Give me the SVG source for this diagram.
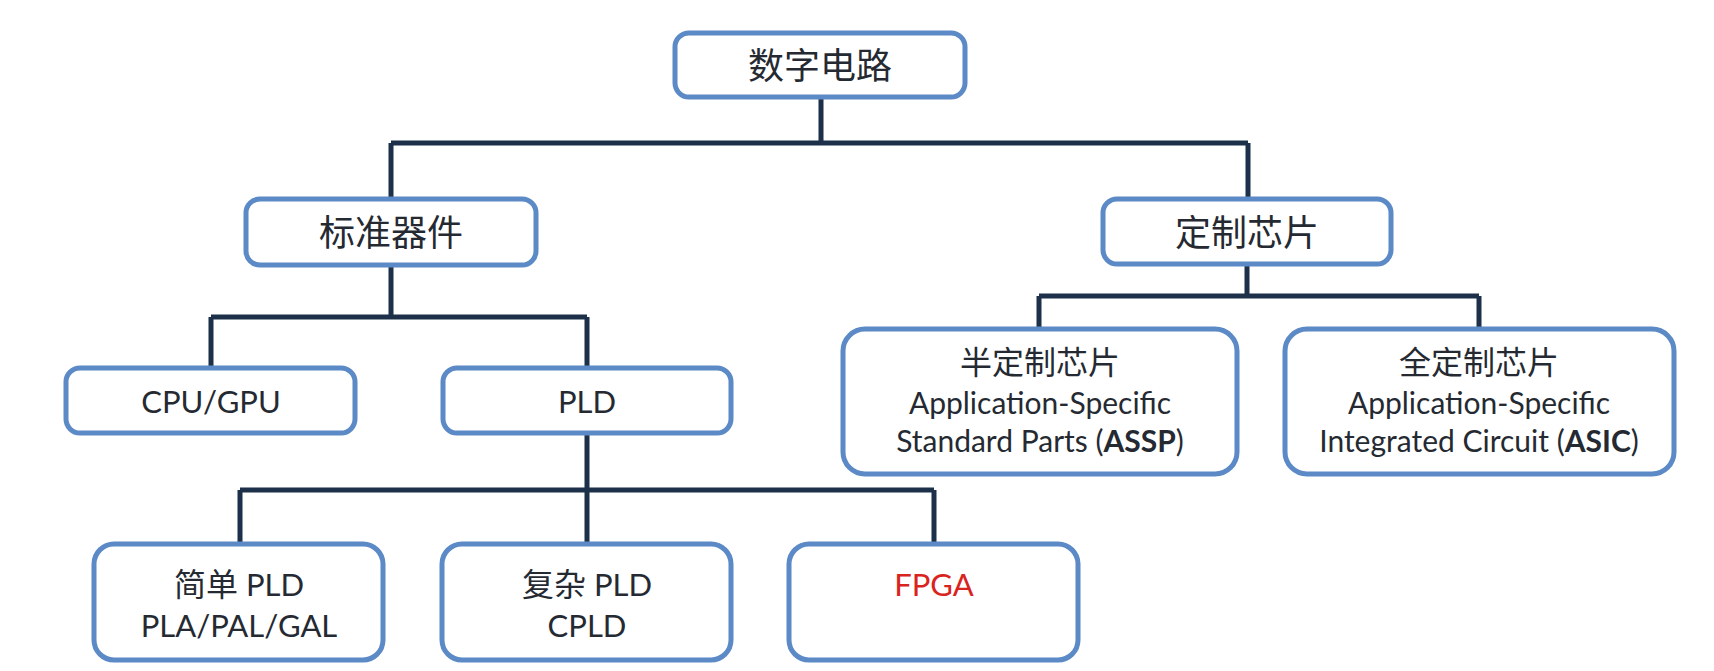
<svg xmlns="http://www.w3.org/2000/svg" width="1714" height="671" viewBox="0 0 1714 671">
<style>
.box{fill:#ffffff;stroke:#5b8ac6;stroke-width:5}
.conn{fill:none;stroke:#1d3049;stroke-width:5;stroke-linejoin:miter}
.t{font-family:Lato,"Noto Sans CJK SC",sans-serif;fill:#252a32;text-anchor:middle}
.cn{font-family:"Noto Sans CJK SC",sans-serif}
.big{font-size:36px}
.mid{font-size:31px}
.sm{font-size:30px}
.red{fill:#d8231e}
</style>
<rect width="1714" height="671" fill="#ffffff"/>
<g id="connectors">
<path class="conn" d="M821 98 V143 M391 143 H1248 M391 143 V199 M1248 143 V199"/>
<path class="conn" d="M391 266 V317 M211 317 H587 M211 317 V368 M587 317 V368"/>
<path class="conn" d="M587 433 V490 M240 490 H934 M240 490 V543 M587 490 V543 M934 490 V543"/>
<path class="conn" d="M1247 265 V296 M1039 296 H1479 M1039 296 V328 M1479 296 V328"/>
</g>
<g id="n-digital">
<rect class="box" x="675" y="33" width="290" height="64" rx="14"/>
<text class="t cn big" x="820" y="79">数字电路</text>
</g>
<g id="n-standard">
<rect class="box" x="246" y="199" width="290" height="66" rx="14"/>
<text class="t cn big" x="391" y="246">标准器件</text>
</g>
<g id="n-custom">
<rect class="box" x="1103" y="199" width="288" height="65" rx="14"/>
<text class="t cn big" x="1247" y="246">定制芯片</text>
</g>
<g id="n-cpu">
<rect class="box" x="66" y="368" width="289" height="65" rx="14"/>
<text class="t mid" x="211" y="413">CPU/GPU</text>
</g>
<g id="n-pld">
<rect class="box" x="443" y="368" width="288" height="65" rx="14"/>
<text class="t mid" x="587" y="413">PLD</text>
</g>
<g id="n-assp">
<rect class="box" x="843" y="329" width="394" height="145" rx="22"/>
<text class="t cn" x="1040" y="374" font-size="32">半定制芯片</text>
<text class="t sm" x="1040" y="414">Application-Specific</text>
<text class="t sm" x="1040" y="452">Standard Parts (<tspan font-weight="bold">ASSP</tspan>)</text>
</g>
<g id="n-asic">
<rect class="box" x="1285" y="329" width="389" height="145" rx="22"/>
<text class="t cn" x="1479" y="374" font-size="32">全定制芯片</text>
<text class="t sm" x="1479" y="414">Application-Specific</text>
<text class="t sm" x="1479" y="452">Integrated Circuit (<tspan font-weight="bold">ASIC</tspan>)</text>
</g>
<g id="n-spld">
<rect class="box" x="94" y="544" width="289" height="116" rx="20"/>
<text class="t mid" x="239" y="596"><tspan class="cn" font-size="32">简单</tspan> PLD</text>
<text class="t mid" x="239" y="637">PLA/PAL/GAL</text>
</g>
<g id="n-cpld">
<rect class="box" x="442" y="544" width="289" height="116" rx="20"/>
<text class="t mid" x="587" y="596"><tspan class="cn" font-size="32">复杂</tspan> PLD</text>
<text class="t mid" x="587" y="637">CPLD</text>
</g>
<g id="n-fpga">
<rect class="box" x="789" y="544" width="289" height="116" rx="20"/>
<text class="t mid red" x="934" y="596">FPGA</text>
</g>
</svg>
